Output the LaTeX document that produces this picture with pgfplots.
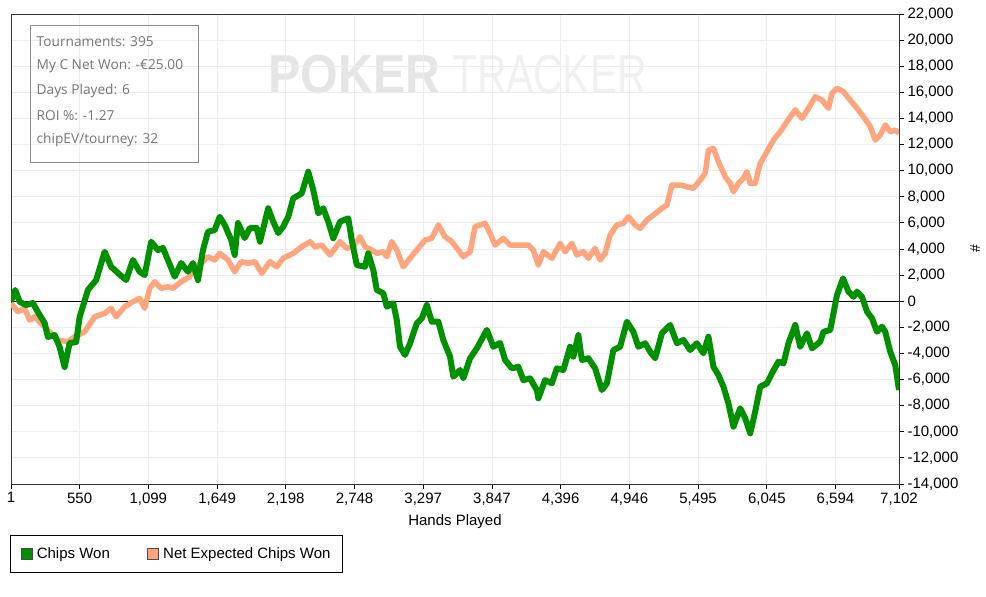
\documentclass[border=0pt]{standalone}
\usepackage{pgfplots}
\pgfplotsset{compat=1.18}
\usepackage{pgfplotstable}
\usepackage{fontspec}
\setmainfont{Liberation Sans}
\newfontfamily\infofont{Open Sans}
\newfontfamily\wmA[FakeStretch=0.88]{Liberation Sans}
\newfontfamily\wmB[FakeStretch=0.74]{Liberation Sans}
\definecolor{cgreen}{RGB}{0,145,0}
\definecolor{csalmon}{RGB}{255,165,125}
\definecolor{cgrid}{RGB}{236,236,236}
\definecolor{cinfo}{RGB}{118,118,118}

\pgfplotstableread{
h v
1 0
35 860
70 -40
120 -290
176 -140
216 -830
270 -1670
296 -2740
350 -2590
390 -3510
430 -5040
470 -3200
522 -3130
550 -1210
616 860
682 1620
750 3790
802 2640
856 2160
922 1620
976 3160
1030 2260
1070 2000
1122 4560
1176 3920
1216 4080
1256 3160
1310 1880
1362 2930
1416 2260
1456 2930
1496 1620
1536 3920
1576 5320
1630 5450
1670 6470
1710 5840
1762 4690
1790 3540
1816 5990
1870 4840
1912 5610
1966 5610
1992 4560
2058 7120
2098 6090
2138 5220
2178 5710
2218 6470
2258 7880
2326 8270
2378 9920
2418 8520
2458 6730
2498 7120
2538 6090
2578 4820
2632 6090
2698 6350
2726 4690
2766 2770
2832 2640
2858 3670
2898 2390
2926 860
2978 610
3006 -420
3058 -160
3086 -1440
3112 -3490
3152 -4120
3192 -3220
3246 -1690
3286 -1310
3326 -290
3366 -1570
3418 -1570
3458 -2970
3512 -4250
3538 -5780
3592 -5270
3618 -5900
3672 -4370
3726 -3610
3806 -2200
3858 -3490
3912 -3200
3952 -4500
4006 -5140
4058 -5020
4098 -6040
4152 -5910
4206 -6800
4218 -7440
4272 -6040
4326 -6290
4366 -5140
4418 -5270
4472 -3490
4498 -4250
4538 -2590
4566 -4500
4618 -4370
4672 -5140
4726 -6800
4766 -6290
4818 -3740
4872 -3490
4926 -1570
4978 -2340
5018 -3490
5072 -3220
5112 -3870
5152 -4370
5206 -2460
5272 -1820
5326 -3220
5378 -2970
5432 -3740
5486 -3220
5538 -3990
5578 -2720
5618 -5020
5658 -5650
5698 -6550
5738 -7820
5778 -9610
5832 -8200
5872 -8970
5912 -10120
5952 -8460
5992 -6550
6046 -6290
6086 -5520
6138 -4630
6178 -4760
6218 -3220
6272 -1820
6312 -3490
6366 -2460
6406 -3610
6472 -3100
6498 -2340
6552 -2210
6578 -930
6606 470
6654 1750
6698 730
6738 340
6766 730
6806 340
6846 -800
6886 -1310
6926 -2340
6966 -1950
6992 -2340
7032 -3870
7072 -4890
7102 -6800
}\chips

\pgfplotstableread{
h v
1 -160
56 -800
110 -540
150 -1440
190 -1190
242 -1690
296 -2210
376 -2970
456 -3100
510 -2720
590 -2340
670 -1190
750 -930
802 -540
842 -1190
910 -420
976 -40
1030 220
1070 -540
1110 990
1150 1490
1202 990
1256 1110
1296 990
1362 1490
1430 1880
1470 2640
1522 2900
1576 3410
1630 3160
1670 3670
1736 3160
1790 2260
1842 3030
1898 2900
1952 3030
2006 2140
2072 3030
2126 2640
2178 3290
2258 3670
2326 4170
2392 4560
2432 4170
2486 4300
2552 3540
2632 4560
2686 4050
2738 4170
2792 4940
2832 4170
2886 3920
2926 3670
2978 3790
3006 3410
3046 4560
3086 3920
3138 2640
3192 3290
3246 3920
3312 4690
3366 4820
3418 5840
3472 4940
3526 4560
3578 3920
3618 3410
3672 3790
3712 5710
3792 5970
3832 5200
3872 4300
3938 4820
3992 4300
4072 4300
4138 4300
4178 3920
4218 2770
4258 3790
4326 3290
4392 4430
4432 3790
4486 4430
4526 3540
4578 3790
4618 3290
4672 4050
4712 3160
4752 3670
4792 5070
4846 5840
4898 5970
4938 6470
4992 5840
5032 5580
5086 6220
5138 6600
5206 7120
5246 7370
5286 8900
5352 8900
5406 8770
5458 8650
5512 9280
5552 9800
5578 11580
5618 11710
5658 10690
5712 9540
5752 9030
5778 8390
5818 9030
5858 9410
5886 9920
5912 9030
5952 9030
5992 10560
6046 11450
6098 12350
6152 12980
6206 13750
6272 14650
6326 14010
6378 14780
6432 15660
6486 15410
6538 14780
6566 15930
6606 16310
6658 16050
6712 15410
6766 14780
6818 14130
6872 13370
6912 12350
6952 12730
6992 13500
7032 12980
7072 13110
7102 12860
}\netev

\begin{document}
\begin{tikzpicture}
\useasboundingbox (0,0) rectangle (986pt,-597pt);
% watermark
\node[anchor=west, inner sep=0pt, text=black!10, font=\wmA\fontsize{55}{55}\selectfont\bfseries] at (268pt,-75pt) {POKER};
\node[anchor=west, inner sep=0pt, text=black!6, font=\wmB\fontsize{55}{55}\selectfont] at (452pt,-75pt) {TRACKER};
\begin{axis}[
  at={(11pt,-14pt)}, anchor=north west,
  scale only axis, width=888pt, height=470pt,
  xmin=1, xmax=7102, ymin=-14000, ymax=22000,
  xtick={1,550,1099,1649,2198,2748,3297,3847,4396,4946,5495,6045,6594,7102},
  xticklabels={1,550,{1,099},{1,649},{2,198},{2,748},{3,297},{3,847},{4,396},{4,946},{5,495},{6,045},{6,594},{7,102}},
  ytick={-14000,-12000,...,22000},
  yticklabels={{-14,000},{-12,000},{-10,000},{-8,000},{-6,000},{-4,000},{-2,000},0,{2,000},{4,000},{6,000},{8,000},{10,000},{12,000},{14,000},{16,000},{18,000},{20,000},{22,000}},
  ytick pos=right, xtick pos=bottom,
  tick align=outside, major tick length=5pt,
  tick style={black, line width=0.8pt},
  ticklabel style={font=\fontsize{15}{17}\selectfont},
  yticklabel style={anchor=west},
  grid=major, major grid style={cgrid, line width=0.8pt},
  axis line style={black!80, line width=1pt},
  xlabel={Hands Played},
  xlabel style={font=\fontsize{15}{17}\selectfont, at={(axis description cs:0.5,0)}, anchor=center, yshift=-38pt},
  ylabel={\#},
  ylabel style={font=\fontsize{14}{15}\selectfont, at={(axis description cs:1,0.5)}, anchor=center, yshift=-76pt},
  extra y ticks={0}, extra y tick labels={},
  extra y tick style={grid=major, major grid style={black, line width=0.8pt}, major tick length=0pt},
  legend style={at={(axis description cs:-0.001,-0.1085)}, anchor=north west,
    legend columns=2, draw=black, line width=0.8pt,
    font=\fontsize{15}{17}\selectfont,
    inner xsep=10pt, inner ysep=10.5pt,
    /tikz/every odd column/.append style={column sep=2.5pt},
    /tikz/every even column/.append style={column sep=35pt}},
  legend cell align=left,
]
\addlegendimage{legend image code/.code={\draw[fill=cgreen, draw=black!70, line width=0.8pt] (0pt,-5.5pt) rectangle (11pt,5.5pt);}}
\addlegendentry{Chips Won}
\addlegendimage{legend image code/.code={\draw[fill=csalmon, draw=black!70, line width=0.8pt] (0pt,-5.5pt) rectangle (11pt,5.5pt);}}
\addlegendentry{Net Expected Chips Won}
\addplot[forget plot, csalmon, line width=5.5pt, line join=round] table[x=h, y=v] {\netev};
\addplot[forget plot, cgreen, line width=6pt, line join=round] table[x=h, y=v] {\chips};
\end{axis}
% info box
\draw[black!45, line width=0.9pt] (30pt,-25pt) rectangle (198pt,-162pt);
\begin{scope}[every node/.style={anchor=west, inner sep=0pt, text=cinfo, font=\infofont\fontsize{13.7}{15}\selectfont}]
\node at (36.5pt,-41.7pt) {Tournaments: 395};
\node at (36.5pt,-66.3pt) {My C Net Won: -€25.00};
\node at (36.5pt,-90.9pt) {Days Played: 6};
\node at (36.5pt,-115.5pt) {ROI \%: -1.27};
\node at (36.5pt,-140.1pt) {chipEV/tourney: 32};
\end{scope}
\end{tikzpicture}
\end{document}
